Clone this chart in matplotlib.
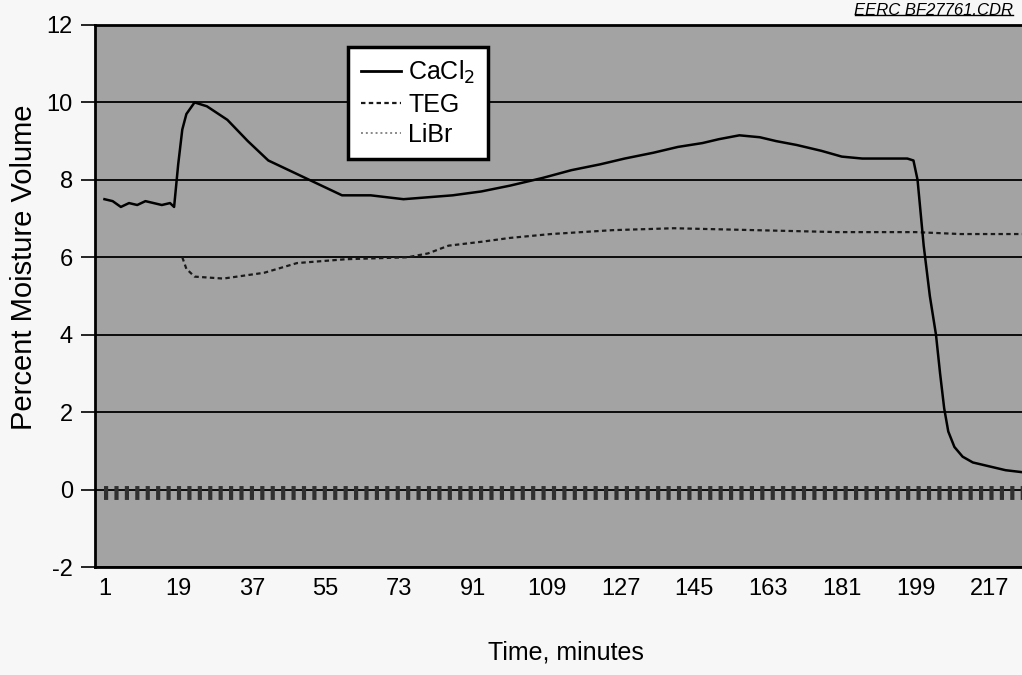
import matplotlib.pyplot as plt
from matplotlib.lines import Line2D

plt.rcParams['font.family'] = ['Liberation Sans', 'DejaVu Sans']
plt.rcParams['axes.unicode_minus'] = False

# time (minutes) and moisture readings
cacl2_x = [1, 3, 5, 7, 9, 11, 13, 15, 17, 18, 19, 20, 21, 23, 26, 31, 36, 41, 47, 53, 59,
           66, 74, 80, 86, 93, 100, 108, 115, 122, 128, 135, 141, 147, 151, 156, 161, 165,
           170, 176, 181, 186, 192, 197, 198.5, 199.5, 201, 202.5, 204, 205, 206, 207,
           208.5, 210.5, 213, 217, 221, 225]
cacl2_y = [7.5, 7.45, 7.3, 7.4, 7.35, 7.45, 7.4, 7.35, 7.4, 7.3, 8.4, 9.3, 9.7, 10.0, 9.9,
           9.55, 9.0, 8.5, 8.2, 7.9, 7.6, 7.6, 7.5, 7.55, 7.6, 7.7, 7.85, 8.05, 8.25, 8.4,
           8.55, 8.7, 8.85, 8.95, 9.05, 9.15, 9.1, 9.0, 8.9, 8.75, 8.6, 8.55, 8.55, 8.55,
           8.5, 8.0, 6.3, 5.0, 4.0, 3.0, 2.1, 1.5, 1.1, 0.85, 0.7, 0.6, 0.5, 0.45]

teg_x = [20, 21, 23, 30, 40, 48, 60, 75, 80, 85, 93, 100, 110, 125, 140, 160, 180, 199,
         210, 225]
teg_y = [6.0, 5.7, 5.5, 5.45, 5.6, 5.85, 5.95, 6.0, 6.1, 6.3, 6.4, 6.5, 6.6, 6.7, 6.75,
         6.7, 6.65, 6.65, 6.6, 6.6]

libr_x = [1, 50, 100, 150, 200, 225]
libr_y = [-0.1, -0.1, -0.1, -0.1, -0.1, -0.1]

x_ticks = [1, 19, 37, 55, 73, 91, 109, 127, 145, 163, 181, 199, 217]
y_ticks = [-2, 0, 2, 4, 6, 8, 10, 12]

fig = plt.figure(figsize=(10.22, 6.75), dpi=100, facecolor='#f7f7f7')
ax = fig.add_axes([0.093, 0.16, 0.907, 0.803])
ax.set_facecolor('#a3a3a3')

for yv in y_ticks:
    ax.axhline(yv, color='black', linewidth=1.3, zorder=1)

ax.plot(libr_x, libr_y, color='#303030', linewidth=10, dashes=(0.3, 0.45), zorder=2)
ax.plot(teg_x, teg_y, color='#1a1a1a', linewidth=1.6, dashes=(2, 1.5), zorder=3)
ax.plot(cacl2_x, cacl2_y, color='black', linewidth=1.8, zorder=4)

ax.set_xlim(-1.3, 225)
ax.set_ylim(-2, 12)
ax.set_xticks(x_ticks)
ax.set_yticks(y_ticks)
ax.tick_params(axis='x', length=0, labelsize=17, pad=8)
ax.tick_params(axis='y', length=10, width=1.2, direction='out', labelsize=17, pad=6)
for side in ['left', 'bottom', 'top']:
    ax.spines[side].set_linewidth(2)
ax.spines['right'].set_visible(False)

ax.set_ylabel('Percent Moisture Volume', fontsize=21)
ax.yaxis.set_label_coords(-0.062, 0.553)
ax.set_xlabel('Time, minutes', fontsize=18)
ax.xaxis.set_label_coords(0.508, -0.135)

handles = [
    Line2D([], [], color='black', linewidth=2),
    Line2D([], [], color='#1a1a1a', linewidth=1.6, dashes=(2, 1.5)),
    Line2D([], [], color='#888888', linewidth=1.4, dashes=(1, 1.5)),
]
leg = ax.legend(handles, ['CaCl$_2$', 'TEG', 'LiBr'], loc='upper left',
                bbox_to_anchor=(0.273, 0.96), borderaxespad=0, fontsize=18,
                frameon=True, fancybox=False, handlelength=1.6, handletextpad=0.3,
                labelspacing=0.25, borderpad=0.5, framealpha=1)
leg.get_frame().set_edgecolor('black')
leg.get_frame().set_linewidth(2.5)
leg.get_frame().set_facecolor('white')

fig.text(0.991, 0.996, 'EERC BF27761.CDR', ha='right', va='top', fontsize=12,
         style='italic')
fig.add_artist(Line2D([0.837, 0.991], [0.978, 0.978], color='black', linewidth=1,
                      transform=fig.transFigure))

fig.savefig('out.png', dpi=100, facecolor=fig.get_facecolor())
